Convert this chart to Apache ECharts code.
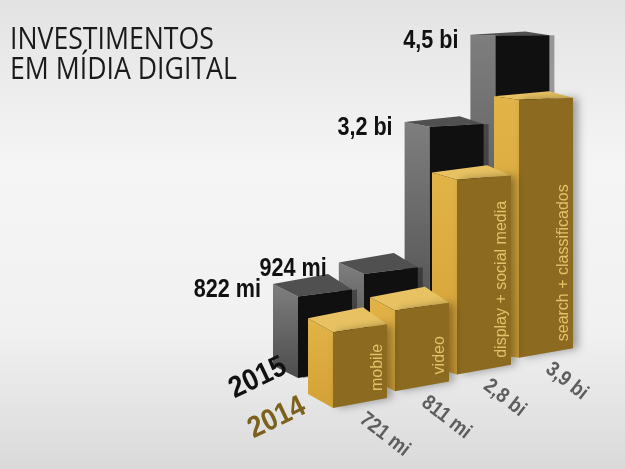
<!DOCTYPE html>
<html>
<head>
<meta charset="utf-8">
<script src="https://cdn.jsdelivr.net/npm/echarts@6/dist/echarts.min.js"></script>
<style>
	html, body { margin: 0; padding: 0; }
	#chart { width: 625px; height: 469px; }
</style>
</head>
<body>
<div id="chart"></div>
<script>
// investimentos em mídia digital (em milhões)
var categories = ['mobile', 'video', 'display + social media', 'search + classificados'];
var years = ['2015', '2014'];
var values2015 = [822, 924, 3200, 4500];
var values2014 = [721, 811, 2800, 3900];
var labels2015 = ['822 mi', '924 mi', '3,2 bi', '4,5 bi'];
var labels2014 = ['721 mi', '811 mi', '2,8 bi', '3,9 bi'];

var yMin = -600, yMax = 5000;
var BOLD = '"Liberation Sans", Arial, sans-serif';

var palette = {
	'2015': { front: '#101010', side: ['#7e7e7e', '#4c4c4c'], top: '#505050', text: '#111111' },
	'2014': { front: '#8c6b20', side: ['#e2b347', '#d3a237'], top: '#e8c262', text: '#7c611c' }
};

// projeta a caixa "3d" a partir das coordenadas do eixo
function boxItem(year, labels) {
	return function(params, api) {
		var i = api.value(0);
		var v = api.value(1);
		var W = 54;
		var base = api.coord([i, yMin]);
		var top = api.coord([i, v]);
		var h = base[1] - top[1];
		var x0 = api.coord([0, yMin])[0];
		var xl = base[0] - W / 2;
		var yb = base[1] - 0.27 * (base[0] - x0);
		if (year == '2015') {
			xl += -35 + 3.8 * i;
			yb -= 30;
		}
		var yt = yb - h;
		// fuga para a direita
		var vr = [2382, 29];
		var flb = [xl, yb];
		var flt = [xl, yt];
		var frb = [xl + W, yb - W * (yb - vr[1]) / (vr[0] - xl)];
		var frt = [xl + W, yt - W * (yt - vr[1]) / (vr[0] - xl)];
		// profundidade
		var dx = -25;
		var dy = -0.045 * (yt - 20);
		var blt = [flt[0] + dx, flt[1] + dy];
		var blb = [flb[0] + dx, flb[1] + dy];
		var brt = [frt[0] + dx + 1, frt[1] + dy - 3];
		var c = palette[year];
		var z = 10 - i;

		var children = [{
			type: 'polygon',
			z2: z,
			shape: { points: [flb, flt, blt, blb] },
			style: {
				fill: new echarts.graphic.LinearGradient(0, 0, 0, 1, [
					{ offset: 0, color: c.side[0] },
					{ offset: 1, color: c.side[1] }
				])
			}
		}, {
			type: 'polygon',
			z2: z,
			shape: { points: [flt, frt, brt, blt] },
			style: { fill: c.top }
		}, {
			type: 'polygon',
			z2: z,
			shape: { points: [flb, frb, frt, flt] },
			style: {
				fill: c.front,
				shadowBlur: year == '2014' ? 8 : 0,
				shadowOffsetX: 5,
				shadowColor: 'rgba(0,0,0,0.35)'
			}
		}];

		if (year == '2015') {
			children.push({
				type: 'text',
				z2: 20,
				x: blt[0] - 12,
				y: blt[1] + 6,
				scaleX: 0.83,
				style: {
					text: labels[i],
					fill: '#111',
					font: 'bold 26px ' + BOLD,
					align: 'right',
					verticalAlign: 'middle'
				}
			});
		} else {
			// nome da categoria na face frontal
			children.push({
				type: 'text',
				z2: z + 1,
				x: frb[0] - 9,
				y: frb[1] - 7,
				rotation: Math.PI / 2,
				style: {
					text: categories[i],
					fill: '#e3c06a',
					font: '16px "Liberation Sans", Arial, sans-serif',
					align: 'left',
					verticalAlign: 'middle'
				}
			});
			children.push({
				type: 'text',
				z2: z,
				x: xl + W / 2 + 2,
				y: yb + 9,
				rotation: -0.66,
				scaleX: 0.88,
				style: {
					text: labels[i],
					fill: '#5e5e5e',
					font: 'bold 21px ' + BOLD,
					align: 'left',
					verticalAlign: 'middle'
				}
			});
		}

		if (i == 0) {
			var pos = year == '2015' ? [flb[0] - 40, flb[1]] : [flb[0] - 56, flb[1] + 10];
			children.push({
				type: 'text',
				z2: z,
				x: pos[0],
				y: pos[1],
				rotation: 0.45,
				scaleX: 0.9,
				style: {
					text: year,
					fill: c.text,
					font: 'bold 30px ' + BOLD,
					align: 'center',
					verticalAlign: 'middle'
				}
			});
		}

		return { type: 'group', children: children };
	};
}

function toData(values) {
	var data = [];
	for (var k = 0; k < values.length; k++) {
		data.push([k, values[k]]);
	}
	return data;
}

var chart = echarts.init(document.getElementById('chart'));
chart.setOption({
	animation: false,
	backgroundColor: {
		type: 'linear', x: 0, y: 0, x2: 0, y2: 1,
		colorStops: [
			{ offset: 0, color: '#e3e3e3' },
			{ offset: 0.35, color: '#f5f5f5' },
			{ offset: 0.7, color: '#f1f1f1' },
			{ offset: 1, color: '#dadada' }
		]
	},
	graphic: [{
		type: 'text',
		x: 10,
		y: 25,
		scaleX: 0.86,
		style: {
			text: 'INVESTIMENTOS\nEM MÍDIA DIGITAL',
			fill: '#1a1a1a',
			font: '31px "Open Sans", "Noto Sans", sans-serif',
			lineHeight: 30,
			verticalAlign: 'top'
		}
	}],
	grid: { left: 329, right: 48, top: 87, bottom: 61 },
	xAxis: {
		type: 'category',
		data: categories,
		show: false
	},
	yAxis: {
		type: 'value',
		min: yMin,
		max: yMax,
		show: false
	},
	series: [{
		name: years[0],
		type: 'custom',
		renderItem: boxItem('2015', labels2015),
		data: toData(values2015),
		z: 1
	}, {
		name: years[1],
		type: 'custom',
		renderItem: boxItem('2014', labels2014),
		data: toData(values2014),
		z: 2
	}]
});
</script>
</body>
</html>
